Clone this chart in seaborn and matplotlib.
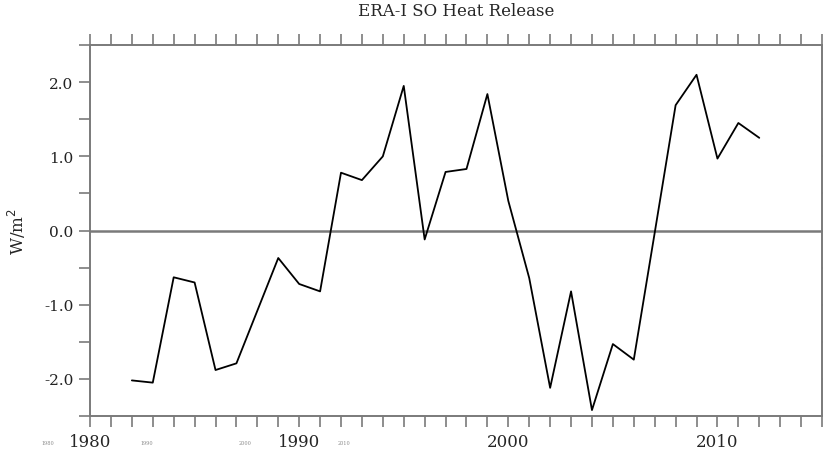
"""
ERA-I Southern Ocean heat release time series
"""

import numpy as np
import pandas as pd
import seaborn as sns
import matplotlib.pyplot as plt
from matplotlib.ticker import MultipleLocator

years = list(range(1982, 2013))
heat_release = [-2.02, -2.05, -0.63, -0.70, -1.88, -1.79, -1.08, -0.37, -0.72, -0.82,
                0.78, 0.68, 1.00, 1.95, -0.12, 0.79, 0.83, 1.84, 0.40, -0.64,
                -2.12, -0.82, -2.42, -1.53, -1.74, -0.03, 1.69, 2.10, 0.97, 1.45, 1.25]
year_ticks = [1980, 1990, 2000, 2010]
value_ticks = [-2.0, -1.0, 0.0, 1.0, 2.0]
small_labels = ["1980", "1990", "2000", "2010"]

df = pd.DataFrame({"year": years, "heat": heat_release})

sns.set_style("ticks")
plt.rcParams['font.family'] = ['DejaVu Serif', 'DejaVu Sans']

axis_grey = "#7a7a7a"
fig = plt.figure(figsize=(8.23, 4.52), dpi=100)
ax = fig.add_axes([0.1094, 0.0774, 0.8894, 0.8206])

ax.axhline(0, color=axis_grey, lw=1.8, zorder=1)
sns.lineplot(data=df, x="year", y="heat", color="black", lw=1.3, ax=ax, zorder=3)

ax.set_xlim(1980, 2015)
ax.set_ylim(-2.5, 2.5)
ax.set_xticks(year_ticks)
ax.set_xticklabels([str(y) for y in year_ticks], fontsize=12)
ax.xaxis.set_minor_locator(MultipleLocator(1))
ax.set_yticks(value_ticks)
ax.set_yticklabels([f"{v:.1f}" for v in value_ticks], fontsize=11, color="#222222")
ax.yaxis.set_minor_locator(MultipleLocator(0.5))

ax.tick_params(which="both", direction="out", color=axis_grey, width=1.2,
               top=True, right=True, labeltop=False, labelright=False)
ax.tick_params(which="major", length=8, pad=4)
ax.tick_params(which="minor", length=8)
for s in ax.spines.values():
    s.set_color(axis_grey)
    s.set_linewidth(1.4)

ax.set_xlabel("")
ax.set_ylabel("W/m$^2$", fontsize=12)
ax.yaxis.set_label_coords(-0.085, 0.5)
ax.set_title("ERA-I SO Heat Release", fontsize=12, pad=22)

# tiny leftover labels at the bottom left
for i, lab in enumerate(small_labels):
    fig.text(0.058 + i * 0.12, 0.018, lab, fontsize=3.5, color="#888888",
             ha="center", va="center")

fig.savefig("out.png", dpi=100)
